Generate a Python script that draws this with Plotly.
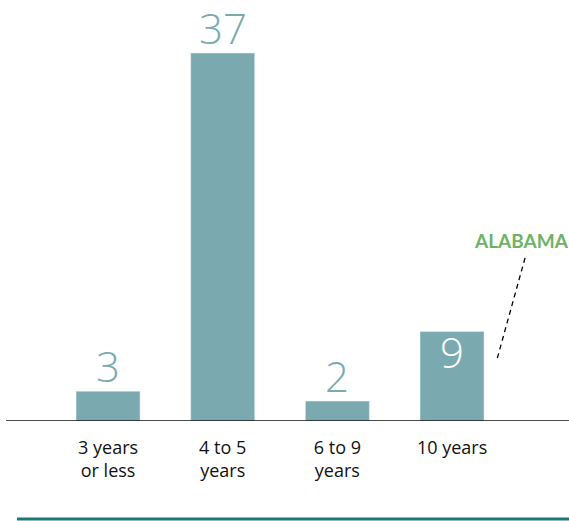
import plotly.graph_objects as go

categories = ["3 years<br>or less", "4 to 5<br>years", "6 to 9<br>years", "10 years"]
values = [3, 37, 2, 9]
inside_label = [False, False, False, True]

bar_color = "#7aaab0"
callout_text = "ALABAMA"

fig = go.Figure()
fig.add_trace(go.Bar(
    x=list(range(len(categories))), y=values,
    marker_color=bar_color, width=0.558,
    hoverinfo="skip",
))

# value labels: above the bar, or white inside the bar
for i, (v, inside) in enumerate(zip(values, inside_label)):
    fig.add_annotation(
        x=i, y=v, text=str(v), showarrow=False, borderpad=0,
        yanchor="top" if inside else "bottom",
        yshift=9.5 if inside else -3.5,
        font=dict(family="Open Sans", size=42, color="white" if inside else bar_color, weight=300),
    )

# state callout with dashed leader line
fig.add_annotation(
    x=3.61, y=18.1, text="<b>" + callout_text + "</b>", showarrow=False,
    font=dict(family="Lato", size=19, color="#6db364"),
)
fig.add_shape(type="line", x0=3.637, y0=16.4, x1=3.392, y1=6.2,
              line=dict(color="black", width=1.3, dash="5px,4px"))

# baseline
fig.add_shape(type="line", xref="paper", yref="y", x0=0, x1=1, y0=0, y1=0,
              line=dict(color="#111111", width=1.5))
# bottom rule
fig.add_shape(type="line", xref="paper", yref="paper", x0=0.0195, x1=1.0, y0=-0.233, y1=-0.233,
              line=dict(color="#137a7a", width=3))

fig.update_layout(
    width=569, height=521,
    margin=dict(l=6, r=0, t=0, b=100),
    plot_bgcolor="white", paper_bgcolor="white",
    showlegend=False,
    font=dict(family="Open Sans", size=18, color="#111111"),
    xaxis=dict(
        range=[-0.89, 4.02], tickmode="array",
        tickvals=list(range(len(categories))), ticktext=categories,
        showgrid=False, zeroline=False, showline=False,
        ticks="", ticklabelstandoff=14, fixedrange=True,
    ),
    yaxis=dict(range=[0, 42.33], visible=False, fixedrange=True),
)

# drop the default body margin so the figure fills the window
fig.write_html("out.html", config={"displayModeBar": False},
               post_script="document.body.style.margin='0';document.body.style.overflow='hidden';")
